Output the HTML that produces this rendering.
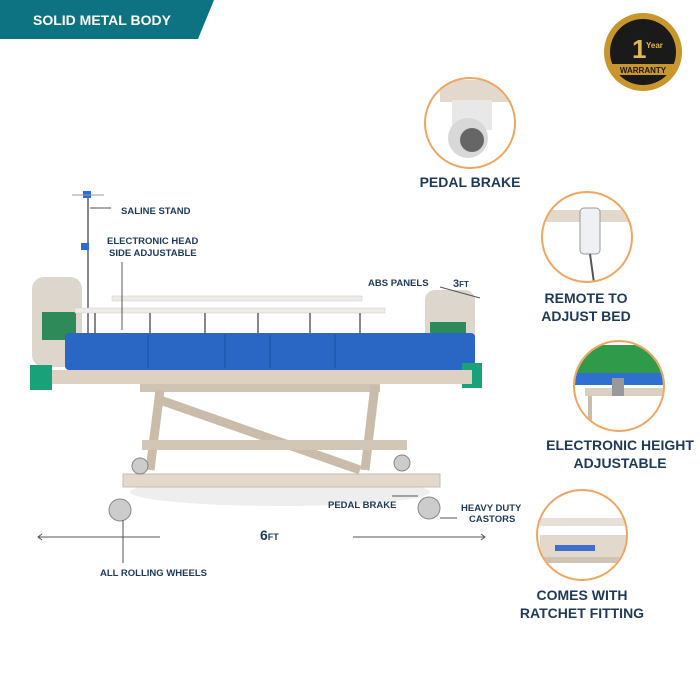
<!DOCTYPE html>
<html><head><style>
body{margin:0;width:700px;height:700px;background:#fff;overflow:hidden}
svg{display:block}
text{font-family:"Liberation Sans",sans-serif;font-weight:bold;fill:#1d3a57}
</style></head><body>
<svg width="700" height="700" viewBox="0 0 700 700">
<defs>
<clipPath id="c1"><circle cx="470" cy="123" r="44"/></clipPath>
<clipPath id="c2"><circle cx="587" cy="237" r="44"/></clipPath>
<clipPath id="c3"><circle cx="619" cy="386" r="44"/></clipPath>
<clipPath id="c4"><circle cx="582" cy="535" r="44"/></clipPath>
</defs>
<polygon points="0,0 214,0 198,39 0,39" fill="#0d7282"/>
<text x="33" y="25" font-size="14" style="fill:#fff">SOLID METAL BODY</text>
<!-- badge -->
<circle cx="643" cy="52" r="39" fill="#c9962e"/>
<circle cx="643" cy="52" r="33" fill="#1a1a1a"/>
<text x="632" y="58" font-size="26" style="fill:#e3b84f" font-family="Liberation Serif">1</text>
<text x="646" y="48" font-size="8" style="fill:#e3b84f">Year</text>
<rect x="612" y="64" width="62" height="11" fill="#c9962e"/>
<text x="643" y="73" font-size="8" text-anchor="middle" style="fill:#1a1a1a">WARRANTY</text>
<!-- feature circle contents -->
<g clip-path="url(#c1)"><rect x="420" y="70" width="100" height="100" fill="#fff"/><rect x="440" y="80" width="80" height="22" fill="#e2d8cc"/><rect x="452" y="100" width="40" height="30" fill="#e8e8e8"/><circle cx="468" cy="138" r="20" fill="#d8d8d8"/><circle cx="472" cy="140" r="12" fill="#666"/></g>
<g clip-path="url(#c2)"><rect x="540" y="210" width="100" height="12" fill="#e2d8cc"/><rect x="580" y="208" width="20" height="46" rx="4" fill="#eef0f4" stroke="#999"/><line x1="590" y1="254" x2="595" y2="290" stroke="#555" stroke-width="2"/></g>
<g clip-path="url(#c3)"><rect x="570" y="345" width="100" height="30" fill="#2f9a4a"/><rect x="570" y="373" width="100" height="12" fill="#2f6fd0"/><rect x="585" y="388" width="80" height="8" fill="#d9cfc2"/><rect x="612" y="378" width="12" height="18" fill="#999"/><line x1="590" y1="396" x2="590" y2="430" stroke="#c9bcaa" stroke-width="4"/></g>
<g clip-path="url(#c4)"><rect x="540" y="518" width="90" height="8" fill="#e6e0d8"/><rect x="540" y="535" width="90" height="22" fill="#e2d8cc"/><rect x="555" y="545" width="40" height="6" fill="#3d6fd0"/><rect x="540" y="557" width="90" height="6" fill="#cfc3b4"/></g>
<g fill="none" stroke="#f0a560" stroke-width="2">
<circle cx="470" cy="123" r="45"/><circle cx="587" cy="237" r="45"/>
<circle cx="619" cy="386" r="45"/><circle cx="582" cy="535" r="45"/></g>
<g font-size="14" text-anchor="middle">
<text x="470" y="187">PEDAL BRAKE</text>
<text x="586" y="303">REMOTE TO</text><text x="586" y="321">ADJUST BED</text>
<text x="620" y="450">ELECTRONIC HEIGHT</text><text x="620" y="468">ADJUSTABLE</text>
<text x="582" y="600">COMES WITH</text><text x="582" y="618">RATCHET FITTING</text></g>
<!-- bed -->
<ellipse cx="280" cy="492" rx="150" ry="14" fill="#eee"/>
<line x1="88" y1="195" x2="88" y2="340" stroke="#888" stroke-width="2"/>
<rect x="83" y="191" width="8" height="7" fill="#2a6fd0"/><rect x="81" y="243" width="8" height="7" fill="#2a6fd0"/>
<path d="M72,195 h32" stroke="#999" fill="none"/>
<rect x="32" y="277" width="50" height="90" rx="12" fill="#ddd6cc"/>
<rect x="42" y="312" width="34" height="28" fill="#2f8a5a"/>
<rect x="425" y="290" width="50" height="80" rx="10" fill="#ddd6cc"/>
<rect x="430" y="322" width="36" height="24" fill="#2f8a5a"/>
<rect x="112" y="296" width="250" height="5" fill="#eeeae4" stroke="#ccc" stroke-width=".5"/>
<rect x="75" y="308" width="310" height="5" fill="#eeeae4" stroke="#ccc" stroke-width=".5"/>
<g stroke="#888" stroke-width="2"><line x1="95" y1="313" x2="95" y2="340"/><line x1="150" y1="313" x2="150" y2="340"/><line x1="205" y1="313" x2="205" y2="340"/><line x1="258" y1="313" x2="258" y2="340"/><line x1="310" y1="313" x2="310" y2="340"/><line x1="360" y1="313" x2="360" y2="340"/></g>
<rect x="65" y="333" width="410" height="37" rx="4" fill="#2a66c4"/>
<g stroke="#1c4f9e" stroke-width="1"><line x1="148" y1="335" x2="148" y2="368"/><line x1="225" y1="335" x2="225" y2="368"/><line x1="270" y1="335" x2="270" y2="368"/><line x1="335" y1="335" x2="335" y2="368"/></g>
<rect x="30" y="365" width="22" height="25" fill="#19a27a"/><rect x="462" y="363" width="20" height="25" fill="#19a27a"/>
<rect x="52" y="370" width="420" height="14" fill="#dcd1c3"/>
<rect x="140" y="384" width="240" height="8" fill="#cfc3b4"/>
<g stroke="#c9bcaa" stroke-width="9"><line x1="160" y1="390" x2="150" y2="470"/><line x1="375" y1="385" x2="365" y2="470"/><line x1="160" y1="400" x2="360" y2="470"/></g>
<rect x="142" y="440" width="265" height="10" fill="#d2c6b6"/>
<rect x="123" y="474" width="317" height="13" fill="#e2d8cc" stroke="#c8bcad"/>
<g fill="#ccc" stroke="#888"><circle cx="120" cy="510" r="11"/><circle cx="429" cy="508" r="11"/><circle cx="140" cy="466" r="8"/><circle cx="402" cy="463" r="8"/></g>
<!-- labels -->
<g stroke="#555" stroke-width="1" fill="none">
<line x1="90" y1="208" x2="111" y2="208"/><line x1="122" y1="262" x2="122" y2="330"/>
<line x1="123" y1="520" x2="123" y2="563"/><line x1="392" y1="496" x2="418" y2="496"/><line x1="440" y1="518" x2="457" y2="518"/>
<line x1="38" y1="537" x2="160" y2="537"/><path d="M42,534 l-4,3 4,3"/>
<line x1="353" y1="537" x2="485" y2="537"/><path d="M481,534 l4,3 -4,3"/>
<line x1="440" y1="287" x2="480" y2="298"/></g>
<g font-size="9.5">
<text x="121" y="214">SALINE STAND</text>
<text x="107" y="244">ELECTRONIC HEAD</text><text x="109" y="256">SIDE ADJUSTABLE</text>
<text x="368" y="286">ABS PANELS</text><text x="453" y="287" font-size="11">3<tspan font-size="8">FT</tspan></text>
<text x="328" y="508">PEDAL BRAKE</text>
<text x="461" y="511">HEAVY DUTY</text><text x="469" y="522">CASTORS</text>
<text x="100" y="576">ALL ROLLING WHEELS</text>
<text x="260" y="540" font-size="14">6<tspan font-size="9">FT</tspan></text></g>
</svg>
</body></html>
